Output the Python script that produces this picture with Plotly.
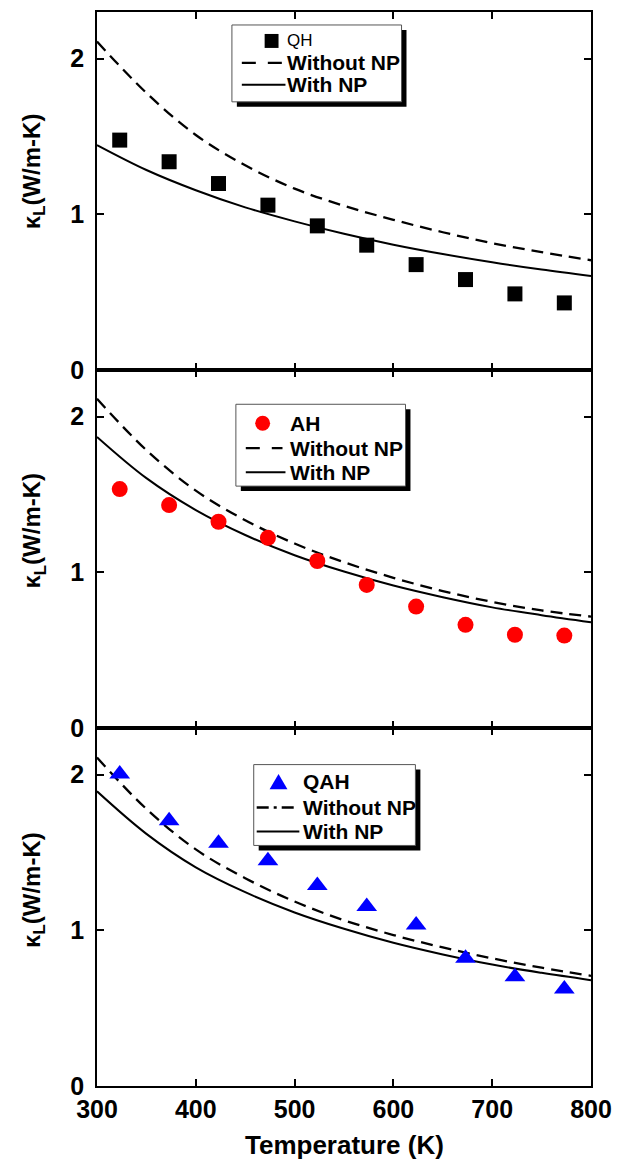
import plotly.graph_objects as go
from plotly.subplots import make_subplots

# Measured lattice thermal conductivity (W/m-K) at each temperature (K)
temperature = [323, 373, 423, 473, 523, 573, 623, 673, 723, 773]
qh_measured = [1.477, 1.338, 1.198, 1.059, 0.926, 0.802, 0.677, 0.581, 0.489, 0.431]
ah_measured = [1.535, 1.432, 1.325, 1.222, 1.073, 0.919, 0.780, 0.663, 0.599, 0.594]
qah_measured = [2.005, 1.704, 1.560, 1.447, 1.288, 1.153, 1.035, 0.820, 0.702, 0.623]

# Model curves, without and with nanoprecipitates
model_temperature = [300, 350, 400, 450, 500, 550, 600, 650, 700, 750, 800]
qh_without_np = [2.11, 1.78, 1.51, 1.315, 1.165, 1.055, 0.965, 0.885, 0.815, 0.757, 0.705]
qh_with_np = [1.445, 1.285, 1.155, 1.045, 0.955, 0.875, 0.805, 0.745, 0.692, 0.645, 0.604]
ah_without_np = [2.115, 1.785, 1.525, 1.335, 1.185, 1.065, 0.965, 0.88, 0.81, 0.755, 0.716]
ah_with_np = [1.87, 1.605, 1.40, 1.24, 1.11, 1.005, 0.915, 0.84, 0.775, 0.725, 0.68]
qah_without_np = [2.11, 1.78, 1.52, 1.335, 1.185, 1.065, 0.97, 0.89, 0.82, 0.76, 0.708]
qah_with_np = [1.893, 1.62, 1.405, 1.245, 1.115, 1.01, 0.92, 0.845, 0.78, 0.727, 0.68]

x_ticks = [300, 400, 500, 600, 700, 800]
y_ticks = [0, 1, 2]

FONT = "Liberation Sans, Arial, Helvetica, sans-serif"
W, H = 622, 1162
PL, PR, PT, PB = 97, 595, 10, 1086


def px(x):
    return (x - PL) / (PR - PL)


def py(y):
    return (PB - y) / (PB - PT)


fig = make_subplots(rows=3, cols=1, shared_xaxes=True, vertical_spacing=0)

panels = [
    dict(name="QH", y=qh_measured, wo=qh_without_np, wi=qh_with_np,
         symbol="square", color="black", size=15),
    dict(name="AH", y=ah_measured, wo=ah_without_np, wi=ah_with_np,
         symbol="circle", color="#ff0000", size=16),
    dict(name="QAH", y=qah_measured, wo=qah_without_np, wi=qah_with_np,
         symbol="triangle-up", color="#0000ff", size=18),
]

for row, p in enumerate(panels, start=1):
    fig.add_trace(go.Scatter(x=model_temperature, y=p["wo"], mode="lines",
                             line=dict(color="black", width=2.3, dash="12px,7px", shape="spline"),
                             showlegend=False), row=row, col=1)
    fig.add_trace(go.Scatter(x=model_temperature, y=p["wi"], mode="lines",
                             line=dict(color="black", width=2, shape="spline"),
                             showlegend=False), row=row, col=1)
    fig.add_trace(go.Scatter(x=temperature, y=p["y"], mode="markers",
                             marker=dict(symbol=p["symbol"], color=p["color"], size=p["size"],
                                         line=dict(width=0)),
                             showlegend=False), row=row, col=1)

axis_common = dict(showline=True, linecolor="black", linewidth=1.5, mirror="ticks",
                   ticks="inside", ticklen=7, tickwidth=1.5, tickcolor="black",
                   showgrid=False, zeroline=False)

for row in range(1, 4):
    fig.update_xaxes(range=[300, 800], tickvals=x_ticks, row=row, col=1,
                     showticklabels=(row == 3),
                     tickfont=dict(family=FONT, size=25, color="black", weight="bold"),
                     **axis_common)
    fig.update_yaxes(range=[0, 2.3], tickvals=y_ticks, row=row, col=1,
                     tickfont=dict(family=FONT, size=25, color="black", weight="bold"),
                     ticklabelstandoff=6, **axis_common)

shapes = []
annotations = []

# Legend boxes (pixel geometry converted to paper coordinates)
legends = [
    dict(box=(233, 23, 404, 100), rows=(39, 61, 83), key=(243, 284), text_x=287,
         marker=("square", 273, 14), label_font=dict(size=17, weight="normal"),
         dash="14px,12px"),
    dict(box=(237, 403, 408, 485), rows=(422, 447, 471), key=(247, 284), text_x=290,
         marker=("circle", 264, 15), label_font=dict(size=21, weight="bold"),
         dash="14px,12px"),
    dict(box=(255, 764, 418, 845), rows=(781, 807, 831), key=(258, 298), text_x=303,
         marker=("triangle", 280, 18), label_font=dict(size=21, weight="bold"),
         dash="12px,5px,3px,5px"),
]

for p, lg in zip(panels, legends):
    x0, y0, x1, y1 = lg["box"]
    shapes.append(dict(type="rect", xref="paper", yref="paper",
                       x0=px(x0 + 5), x1=px(x1 + 5), y0=py(y0 + 5), y1=py(y1 + 5),
                       fillcolor="black", line=dict(width=0)))
    shapes.append(dict(type="rect", xref="paper", yref="paper",
                       x0=px(x0), x1=px(x1), y0=py(y0), y1=py(y1),
                       fillcolor="white", line=dict(color="#555555", width=1)))
    kind, mx, ms = lg["marker"]
    my = lg["rows"][0]
    if kind == "square":
        shapes.append(dict(type="rect", xref="paper", yref="paper",
                           x0=px(mx - ms / 2), x1=px(mx + ms / 2),
                           y0=py(my - ms / 2), y1=py(my + ms / 2),
                           fillcolor=p["color"], line=dict(width=0)))
    elif kind == "circle":
        shapes.append(dict(type="circle", xref="paper", yref="paper",
                           x0=px(mx - ms / 2), x1=px(mx + ms / 2),
                           y0=py(my - ms / 2), y1=py(my + ms / 2),
                           fillcolor=p["color"], line=dict(width=0)))
    else:
        hh = ms * 0.85
        path = "M {} {} L {} {} L {} {} Z".format(
            px(mx - ms / 2), py(my + hh / 2), px(mx + ms / 2), py(my + hh / 2),
            px(mx), py(my - hh / 2))
        shapes.append(dict(type="path", xref="paper", yref="paper", path=path,
                           fillcolor=p["color"], line=dict(width=0)))
    k0, k1 = lg["key"]
    shapes.append(dict(type="line", xref="paper", yref="paper",
                       x0=px(k0), x1=px(k1), y0=py(lg["rows"][1]), y1=py(lg["rows"][1]),
                       line=dict(color="black", width=2.3, dash=lg["dash"])))
    shapes.append(dict(type="line", xref="paper", yref="paper",
                       x0=px(k0), x1=px(k1 + 3), y0=py(lg["rows"][2]), y1=py(lg["rows"][2]),
                       line=dict(color="black", width=2)))
    for text, yy, fnt in [(p["name"], lg["rows"][0], lg["label_font"]),
                          ("Without NP", lg["rows"][1], dict(size=21, weight="bold")),
                          ("With NP", lg["rows"][2], dict(size=21, weight="bold"))]:
        annotations.append(dict(text=text, xref="paper", yref="paper",
                                x=px(lg["text_x"]), y=py(yy), xanchor="left", yanchor="middle",
                                showarrow=False,
                                font=dict(family=FONT, color="black", **fnt)))

# y-axis titles, one per panel
for center in (170, 530, 890):
    annotations.append(dict(text="κ<sub>L</sub>(W/m-K)", xref="paper", yref="paper",
                            x=px(33), y=py(center), xanchor="center", yanchor="middle",
                            textangle=-90, showarrow=False,
                            font=dict(family=FONT, size=24, color="black", weight="bold")))

annotations.append(dict(text="Temperature (K)", xref="paper", yref="paper",
                        x=px(346), y=py(1145), xanchor="center", yanchor="middle",
                        showarrow=False,
                        font=dict(family=FONT, size=26, color="black", weight="bold")))

fig.update_layout(width=W, height=H, margin=dict(l=PL, r=W - PR, t=PT, b=H - PB),
                  paper_bgcolor="white", plot_bgcolor="white",
                  shapes=shapes, annotations=annotations, showlegend=False)

fig.write_html("out.html")
